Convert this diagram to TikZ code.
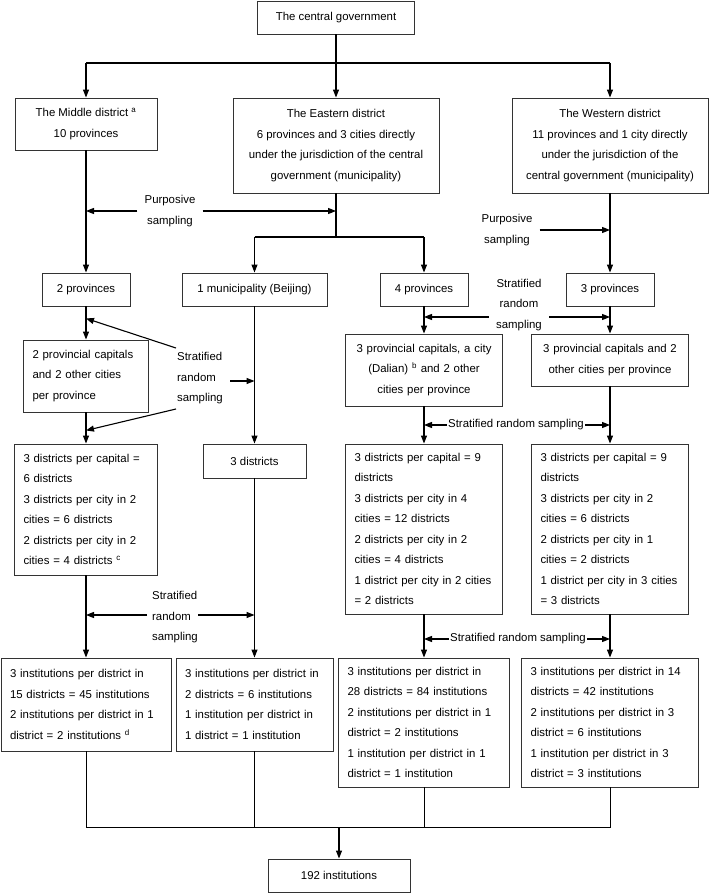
\documentclass[tikz,border=0pt]{standalone}
\usepackage{fontspec}
\setmainfont{Liberation Sans}
\usetikzlibrary{arrows.meta}
\newcommand{\chartfont}{\fontsize{11.4pt}{20.5pt}\selectfont}
\tikzstyle{b} = [draw=black!80, line width=0.9pt, inner xsep=9pt, inner ysep=0pt, font=\chartfont]

\begin{document}
\begin{tikzpicture}[x=1pt, y=-1pt,
			>={Triangle[length=8pt,width=6pt]},
			cbox/.style={b, align=center, inner xsep=5pt},
			lbox/.style={b, align=left},
			lbl/.style={font=\chartfont, inner xsep=7pt, inner ysep=0pt, align=center},
			llbl/.style={lbl, align=left, anchor=west},
			arr/.style={->, line width=1.1pt},
			joinline/.style={line width=0.8pt}]
			\useasboundingbox (0,0) rectangle (709,893);
			\node (gov) [cbox, minimum width=157pt, minimum height=33pt] at (336,17.5) {The central government};
			\node (midd) [cbox, minimum width=142pt, minimum height=52pt] at (86,124) {The Middle district \textsuperscript{a}\\10 provinces};
			\node (eastd) [cbox, minimum width=206pt, minimum height=95pt] at (336,145.5) {The Eastern district\\6 provinces and 3 cities directly\\under the jurisdiction of the central\\government (municipality)};
			\node (westd) [cbox, minimum width=196pt, minimum height=95pt] at (610,145.5) {The Western district\\11 provinces and 1 city directly\\under the jurisdiction of the\\central government (municipality)};
			\node (prov2) [cbox, minimum width=88pt, minimum height=33pt] at (86,289.5) {2 provinces};
			\node (muni) [cbox, minimum width=145pt, minimum height=33pt] at (254.5,289.5) {1 municipality (Beijing)};
			\node (prov4) [cbox, minimum width=88pt, minimum height=33pt] at (424,289.5) {4 provinces};
			\node (prov3) [cbox, minimum width=88pt, minimum height=33pt] at (610,289.5) {3 provinces};
			\node (cap2) [lbox, text width=107pt, minimum height=72pt] at (86,376) {2 provincial capitals\\and 2 other cities\\per province};
			\node (cap3a) [cbox, text width=147pt, minimum height=72pt] at (424,370) {3 provincial capitals, a city\\(Dalian) \textsuperscript{b} and 2 other\\cities per province};
			\node (cap3b) [cbox, text width=147pt, minimum height=52pt] at (610,360) {3 provincial capitals and 2\\other cities per province};
			\node (dist1) [lbox, text width=125pt, minimum height=131pt] at (86,509.5) {3 districts per capital =\\6 districts\\3 districts per city in 2\\cities = 6 districts\\2 districts per city in 2\\cities = 4 districts \textsuperscript{c}};
			\node (dist2) [cbox, minimum width=103pt, minimum height=34pt] at (254.5,461) {3 districts};
			\node (dist3) [lbox, text width=139pt, minimum height=170pt] at (424,529) {3 districts per capital = 9\\districts\\3 districts per city in 4\\cities = 12 districts\\2 districts per city in 2\\cities = 4 districts\\1 district per city in 2 cities\\= 2 districts};
			\node (dist4) [lbox, text width=139pt, minimum height=170pt] at (610,529) {3 districts per capital = 9\\districts\\3 districts per city in 2\\cities = 6 districts\\2 districts per city in 1\\cities = 2 districts\\1 district per city in 3 cities\\= 3 districts};
			\node (inst1) [lbox, text width=152pt, minimum height=93pt] at (86,704.5) {3 institutions per district in\\15 districts = 45 institutions\\2 institutions per district in 1\\district = 2 institutions \textsuperscript{d}};
			\node (inst2) [lbox, text width=139pt, minimum height=93pt] at (254.5,704.5) {3 institutions per district in\\2 districts = 6 institutions\\1 institution per district in\\1 district = 1 institution};
			\node (inst3) [lbox, text width=153pt, minimum height=129pt] at (424,722.5) {3 institutions per district in\\28 districts = 84 institutions\\2 institutions per district in 1\\district = 2 institutions\\1 institution per district in 1\\district = 1 institution};
			\node (inst4) [lbox, text width=159pt, minimum height=129pt] at (610,722.5) {3 institutions per district in 14\\districts = 42 institutions\\2 institutions per district in 3\\district = 6 institutions\\1 institution per district in 3\\district = 3 institutions};
			\node (total) [cbox, minimum width=142pt, minimum height=33pt] at (339,875.5) {192 institutions};
			\node (ps1) [lbl] at (170,211) {Purposive\\sampling};
			\node (ps2) [lbl] at (507,230) {Purposive\\sampling};
			\node (sr1) [llbl] at (170,378.5) {Stratified\\random\\sampling};
			\node (sr2) [lbl] at (519,305) {Stratified\\random\\sampling};
			\node (sr3) [llbl, inner xsep=5pt] at (147,617.5) {Stratified\\random\\sampling};
			\node (sr4) [lbl, inner xsep=1pt] at (516,425) {Stratified random sampling};
			\node (sr5) [lbl, inner xsep=1pt] at (518,639) {Stratified random sampling};
			\coordinate (top) at (336,63);
			\coordinate (split) at (336,237);
			\coordinate (bot) at (339,827);
			\coordinate (t1) at (176,348);
			\coordinate (t2) at (176,409);
			\draw [arr, -] (gov) -- (top);
			\draw [arr, -] (top -| midd) -- (top -| westd);
			\draw [arr] (top -| midd) -- (midd);
			\draw [arr] (top) -- (eastd);
			\draw [arr] (top -| westd) -- (westd);
			\draw [arr] (midd) -- (prov2);
			\draw [arr, -] (eastd) -- (split);
			\draw [arr, -] (split -| muni) -- (split -| prov4);
			\draw [arr] (split -| muni) -- (muni);
			\draw [arr] (split -| prov4) -- (prov4);
			\draw [arr] (westd) -- (prov3);
			\draw [arr] (ps1.west) -- (ps1.west -| midd);
			\draw [arr] (ps1.east) -- (ps1.east -| eastd);
			\draw [arr] (ps2.east) -- (ps2.east -| westd);
			\draw [arr] (prov2) -- (cap2);
			\draw [arr] (cap2) -- (dist1);
			\draw [arr] (dist1) -- (inst1);
			\draw [arr] (muni) -- (dist2);
			\draw [arr] (dist2) -- (inst2);
			\draw [arr] (prov4) -- (cap3a);
			\draw [arr] (cap3a) -- (dist3);
			\draw [arr] (dist3) -- (inst3);
			\draw [arr] (prov3) -- (cap3b);
			\draw [arr] (cap3b) -- (dist4);
			\draw [arr] (dist4) -- (inst4);
			\draw [arr] (t1) -- ([yshift=-12pt]prov2.south);
			\draw [arr] (t2) -- ([yshift=-18pt]cap2.south);
			\draw [arr] ([yshift=-2.5pt]sr1.east) -- ([yshift=-2.5pt]sr1.east -| muni);
			\draw [arr] ([yshift=-12pt]sr2.west) -- ([yshift=-12pt]sr2.west -| prov4);
			\draw [arr] ([yshift=-12pt]sr2.east) -- ([yshift=-12pt]sr2.east -| prov3);
			\draw [arr] ([yshift=2.5pt]sr3.west) -- ([yshift=2.5pt]sr3.west -| dist1);
			\draw [arr] ([yshift=2.5pt,xshift=-5pt]sr3.east) -- ([yshift=2.5pt]sr3.east -| dist2);
			\draw [arr] (sr4.west) -- (sr4.west -| cap3a);
			\draw [arr] (sr4.east) -- (sr4.east -| cap3b);
			\draw [arr] (sr5.west) -- (sr5.west -| dist3);
			\draw [arr] (sr5.east) -- (sr5.east -| dist4);
			\draw [joinline] (inst1) -- (inst1 |- bot) -- (inst4 |- bot) -- (inst4);
			\draw [joinline] (inst2) -- (inst2 |- bot);
			\draw [joinline] (inst3) -- (inst3 |- bot);
			\draw [arr] (bot) -- (total);
		\end{tikzpicture}
\end{document}
